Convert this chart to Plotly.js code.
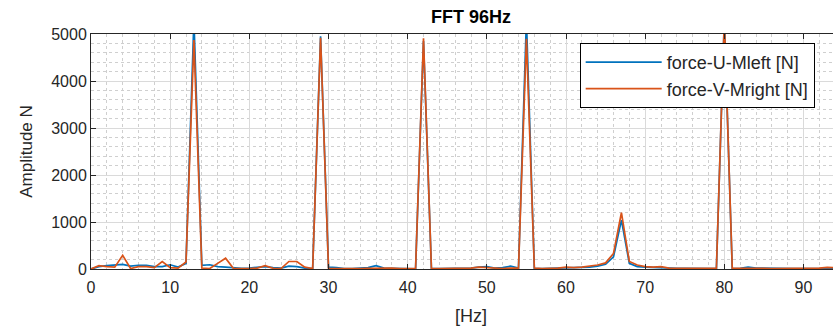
<!DOCTYPE html>
<html>
<head>
<meta charset="utf-8">
<script src="https://cdn.plot.ly/plotly-3.0.1.min.js"></script>
<style>
html, body { margin: 0; padding: 0; overflow: hidden; background: #fff; }
#chart { width: 860px; height: 329px; }
</style>
</head>
<body>
<div id="chart"></div>
<script>
// Frequency bins [Hz]
const freqHz = [];
for (let i = 0; i <= 96; i++) freqHz.push(i);

// force-U-Mleft [N]
const forceU = [
  0, 50, 70, 90, 100, 60, 80, 80, 50, 50,
  90, 40, 120, 5300, 80, 90, 50, 40, 20, 15,
  20, 40, 50, 30, 20, 60, 50, 20, 10, 4950,
  40, 30, 10, 10, 15, 30, 70, 20, 15, 10,
  10, 5, 4850, 10, 10, 10, 10, 15, 20, 40,
  50, 20, 30, 60, 20, 5300, 10, 10, 15, 10,
  20, 20, 30, 40, 60, 100, 260, 1040, 120, 50,
  40, 30, 30, 20, 15, 15, 10, 10, 10, 10,
  5300, 10, 15, 40, 20, 15, 10, 10, 10, 10,
  10, 10, 15, 25, 20, 15, 10
];

// force-V-Mright [N]
const forceV = [
  0, 70, 50, 40, 290, 10, 50, 50, 30, 160,
  30, 20, 150, 4870, 20, 10, 120, 230, 10, 5,
  10, 20, 70, 15, 10, 160, 160, 40, 10, 4920,
  10, 10, 5, 5, 10, 15, 20, 30, 20, 10,
  10, 10, 4910, 10, 10, 10, 5, 10, 20, 40,
  30, 20, 10, 20, 20, 4900, 20, 10, 10, 20,
  40, 30, 40, 55, 85, 130, 330, 1200, 160, 85,
  50, 40, 50, 20, 20, 15, 15, 10, 10, 15,
  5300, 20, 15, 20, 15, 15, 10, 10, 20, 15,
  10, 15, 20, 35, 30, 20, 15
];

const seriesNames = ['force-U-Mleft [N]', 'force-V-Mright [N]'];
const xTicks = [0, 10, 20, 30, 40, 50, 60, 70, 80, 90];
const yTicks = [0, 1000, 2000, 3000, 4000, 5000];

const FONT = '"Liberation Sans", Arial, Helvetica, sans-serif';
const TXT = '#262626';

const traces = [
  { x: freqHz, y: forceU, name: seriesNames[0], type: 'scatter', mode: 'lines',
    line: { color: '#0072BD', width: 1.7 } },
  { x: freqHz, y: forceV, name: seriesNames[1], type: 'scatter', mode: 'lines',
    line: { color: '#D95319', width: 1.7 } }
];

const axisCommon = {
  showline: true, linecolor: TXT, linewidth: 1, mirror: 'ticks',
  ticks: 'inside', ticklen: 5, tickwidth: 1, tickcolor: TXT,
  showgrid: true, gridcolor: '#dadada', gridwidth: 1,
  zeroline: false,
  tickfont: { family: FONT, size: 16, color: TXT }
};

const layout = {
  width: 860, height: 329,
  margin: { l: 91, r: 9, t: 34, b: 60 },
  paper_bgcolor: '#fff', plot_bgcolor: '#fff',
  showlegend: true,
  title: { text: '<b>FFT 96Hz</b>', font: { family: FONT, size: 18, color: '#000' },
           xref: 'paper', x: 0.5, xanchor: 'center', yref: 'container', y: 0.95, yanchor: 'middle' },
  xaxis: Object.assign({}, axisCommon, {
    range: [0, 96], tickvals: xTicks, ticktext: xTicks.map(String),
    ticklabelstandoff: 4,
    minor: { dtick: 2, showgrid: true, gridcolor: '#cfcfcf', griddash: 'dot', gridwidth: 1, ticks: '' },
    title: { text: '[Hz]', font: { family: FONT, size: 18, color: TXT }, standoff: 14 }
  }),
  yaxis: Object.assign({}, axisCommon, {
    range: [0, 5000], tickvals: yTicks, ticktext: yTicks.map(String),
    minor: { dtick: 200, showgrid: true, gridcolor: '#cfcfcf', griddash: 'dot', gridwidth: 1, ticks: '' },
    title: { text: 'Amplitude N', font: { family: FONT, size: 17, color: TXT }, standoff: 14 }
  }),
  legend: {
    x: 0.643, y: 0.962, xanchor: 'left', yanchor: 'top',
    bgcolor: '#fff', bordercolor: '#000', borderwidth: 1,
    font: { family: FONT, size: 18, color: TXT },
    itemwidth: 76, tracegroupgap: 0
  }
};

Plotly.newPlot('chart', traces, layout, { displayModeBar: false, staticPlot: true });
</script>
</body>
</html>
